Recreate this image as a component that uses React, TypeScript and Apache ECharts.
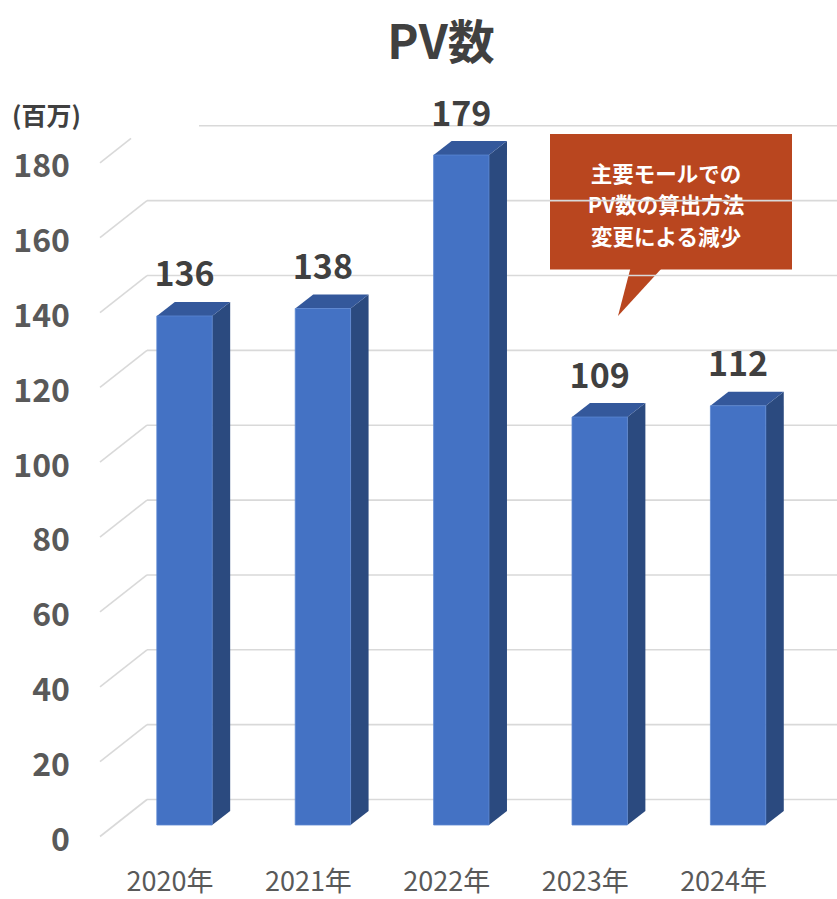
import React, { useEffect, useRef } from "react";
import * as echarts from "echarts";

const titleText = "PV数";
const unitText = "(百万)";
const years = ["2020年", "2021年", "2022年", "2023年", "2024年"];
const pvValues = [136, 138, 179, 109, 112];
const yTicks = [0, 20, 40, 60, 80, 100, 120, 140, 160, 180];
const calloutLines = ["主要モールでの", "PV数の算出方法", "変更による減少"];

const FONT = "'Noto Sans CJK JP', 'Noto Sans', sans-serif";

export default function App() {
  const ref = useRef<HTMLDivElement>(null);

  useEffect(() => {
    if (!ref.current) return;
    const chart = echarts.init(ref.current, null, { renderer: "svg" });
    const yMax = yTicks[yTicks.length - 1];

    const option: any = {
      animation: false,
      backgroundColor: "#ffffff",
      textStyle: { fontFamily: FONT },
      title: {
        text: titleText,
        left: 436,
        top: 10,
        textAlign: "center",
        textStyle: { fontSize: 47, fontWeight: "bold", color: "#404040", fontFamily: FONT },
      },
      grid: [
        { left: 115.3, right: 29.7, top: 151.3, bottom: 74 },
        { left: 100, right: 29.7, top: 163.3, bottom: 62.5 },
      ],
      xAxis: [
        {
          type: "category",
          gridIndex: 0,
          data: years,
          axisLine: { show: false },
          axisTick: { show: false },
          axisLabel: {
            margin: 41,
            fontSize: 27,
            lineHeight: 27,
            color: "#595959",
            fontFamily: FONT,
            padding: [0, 29, 0, 0],
          },
        },
        { type: "category", gridIndex: 1, data: years, show: false },
      ],
      yAxis: [
        {
          type: "value",
          gridIndex: 0,
          min: 0,
          max: yMax,
          interval: 20,
          show: false,
          splitLine: { show: false },
        },
        {
          type: "value",
          gridIndex: 1,
          min: 0,
          max: yMax,
          interval: 20,
          axisLine: { show: false },
          axisTick: { show: false },
          splitLine: { show: false },
          axisLabel: {
            margin: 30,
            fontSize: 32,
            fontWeight: "bold",
            color: "#595959",
            fontFamily: FONT,
          },
        },
      ],
      series: [
        {
          type: "custom",
          name: "grid",
          xAxisIndex: 0,
          yAxisIndex: 0,
          clip: false,
          silent: true,
          z: 1,
          data: yTicks.map((v) => [0, v]),
          renderItem: (params: any, api: any) => {
            const v = api.value(1);
            const y = api.coord([0, v])[1];
            const fx = 100, fy = y + 11.5;
            const bx = 147, by = y - 25.5;
            const right = api.getWidth();
            const isTop = v === yMax;
            const t = isTop ? 0.66 : 1;
            const style = { stroke: "#D9D9D9", lineWidth: 1.6 };
            return {
              type: "group",
              children: [
                {
                  type: "line",
                  shape: { x1: fx, y1: fy, x2: fx + (bx - fx) * t, y2: fy + (by - fy) * t },
                  style,
                },
                {
                  type: "line",
                  shape: { x1: isTop ? 199 : bx, y1: by, x2: right, y2: by },
                  style,
                },
              ],
            };
          },
        },
        {
          type: "custom",
          name: "PV数",
          xAxisIndex: 0,
          yAxisIndex: 0,
          clip: false,
          z: 2,
          data: pvValues.map((v, i) => [i, v]),
          renderItem: (params: any, api: any) => {
            const i = api.value(0);
            const v = api.value(1);
            const top = api.coord([i, v]);
            const base = api.coord([i, 0]);
            const w = api.size([1, 0])[0] * 0.4;
            const xl = top[0] - w / 2;
            const xr = top[0] + w / 2;
            const dx = 18, dy = -14;
            return {
              type: "group",
              children: [
                {
                  type: "polygon",
                  shape: {
                    points: [
                      [xr, top[1]],
                      [xr + dx, top[1] + dy],
                      [xr + dx, base[1] + dy],
                      [xr, base[1]],
                    ],
                  },
                  style: { fill: "#2B4A7F" },
                },
                {
                  type: "polygon",
                  shape: {
                    points: [
                      [xl, top[1]],
                      [xl + dx, top[1] + dy],
                      [xr + dx, top[1] + dy],
                      [xr, top[1]],
                    ],
                  },
                  style: { fill: "#34589B" },
                },
                {
                  type: "rect",
                  shape: { x: xl, y: top[1], width: w, height: base[1] - top[1] },
                  style: { fill: "#4472C4", stroke: "#5B86D2", lineWidth: 0.8 },
                },
                {
                  type: "text",
                  style: {
                    text: String(v),
                    x: top[0],
                    y: top[1] - 44,
                    align: "center",
                    verticalAlign: "middle",
                    fontSize: 34,
                    fontWeight: "bold",
                    fontFamily: FONT,
                    fill: "#404040",
                  },
                },
              ],
            };
          },
        },
      ],
      graphic: [
        {
          type: "text",
          left: 12,
          top: 101,
          z: 10,
          style: {
            text: unitText,
            fontSize: 25,
            fontWeight: "bold",
            fontFamily: FONT,
            fill: "#404040",
          },
        },
        {
          type: "group",
          z: 20,
          children: [
            {
              type: "rect",
              shape: { x: 550, y: 134, width: 242, height: 135.5 },
              style: { fill: "#B9461F" },
            },
            {
              type: "polygon",
              shape: { points: [[630.5, 268], [662, 268], [618, 316]] },
              style: { fill: "#B9461F" },
            },
            ...calloutLines.map((line, k) => ({
              type: "text",
              style: {
                text: line,
                x: 666,
                y: 172 + k * 31.5,
                align: "center",
                verticalAlign: "middle",
                fontSize: 21.5,
                fontWeight: "bold",
                fontFamily: FONT,
                fill: "#ffffff",
              },
            })),
          ],
        },
      ],
    };

    chart.setOption(option);
    return () => chart.dispose();
  }, []);

  return (
    <div
      ref={ref}
      style={{ position: "fixed", left: 0, top: 0, width: 837, height: 899 }}
    />
  );
}
